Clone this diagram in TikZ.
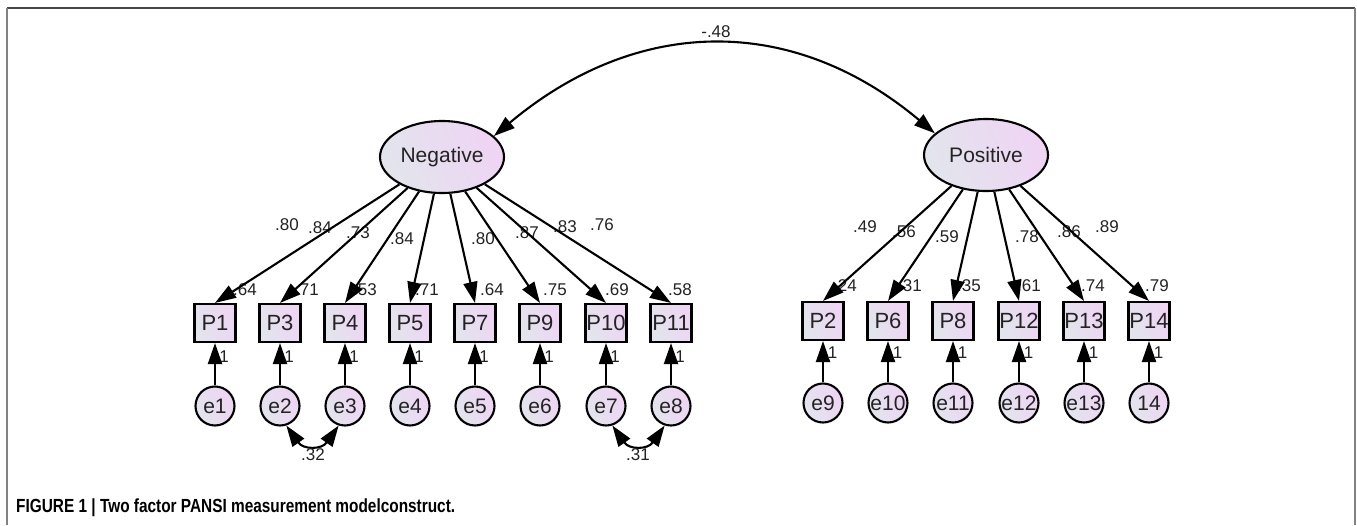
\documentclass[tikz,border=0pt]{standalone}
\usepackage{fontspec}
\setmainfont{Liberation Sans}
\usetikzlibrary{shapes.geometric,arrows.meta}
\definecolor{fillA}{RGB}{226,229,236}
\definecolor{fillB}{RGB}{239,212,244}
\definecolor{txt}{RGB}{35,35,35}
\definecolor{frameTop}{RGB}{70,70,70}
\definecolor{frameSide}{RGB}{130,130,130}
\begin{document}
\begin{tikzpicture}[x=1pt,y=-1pt,
  every node/.style={inner sep=0pt, text=txt},
  latent/.style={ellipse, draw, line width=2.1pt, minimum width=124pt, minimum height=72pt, left color=fillA, right color=fillB, shading angle=115, font=\fontsize{21}{24}\selectfont},
  obs/.style={rectangle, draw, line width=2.1pt, minimum width=41pt, minimum height=38pt, left color=fillA, right color=fillB, shading angle=115, font=\fontsize{22}{26}\selectfont},
  err/.style={circle, draw, line width=2.1pt, minimum size=39pt, left color=fillA, right color=fillB, shading angle=115, font=\fontsize{21}{24}\selectfont},
  loadarrow/.style={draw, line width=2.1pt, -{Triangle[length=21pt,width=14pt]}},
  covarrow/.style={draw, line width=2.1pt, {Triangle[length=21pt,width=14pt]}-{Triangle[length=21pt,width=14pt]}},
  num/.style={font=\fontsize{17}{20}\selectfont},
  caption/.style={font=\fontsize{19}{22}\selectfont\bfseries, text=black, anchor=west}
]
\useasboundingbox (0,0) rectangle (1357,525);
\fill[white] (0,0) rectangle (1357,525);
% frame
\draw[frameTop, line width=1.5pt] (7,8) -- (1355,8);
\draw[frameSide, line width=1.5pt] (7,8) -- (7,525);
\draw[frameSide, line width=1.5pt] (1355,8) -- (1355,525);

% latent factors
\node[latent] (Neg) at (442,157) {Negative};
\node[latent] (Pos) at (986,155) {Positive};

% observed
\foreach \n/\x in {P1/215,P3/280,P4/345,P5/410,P7/475,P9/540,P10/606,P11/671}
  \node[obs] (\n) at (\x,323) {\n};
\foreach \n/\x in {P2/823,P6/888,P8/953,P12/1019,P13/1084,P14/1149}
  \node[obs] (\n) at (\x,321) {\n};

% errors
\foreach \n/\x in {e1/215,e2/280,e3/345,e4/410,e5/475,e6/540,e7/606,e8/671}
  \node[err] (\n) at (\x,406) {\n};
\foreach \n/\t/\x in {e9/e9/823,e10/e10/888,e11/e11/953,e12/e12/1019,e13/e13/1084,e14/14/1149}
  \node[err] (\n) at (\x,403) {\t};

% squared multiple correlations
\foreach \v/\x in {.64/245,.71/307,.53/365,.71/427,.64/492,.75/555,.69/617,.58/680}
  \node[num] at (\x,290) {\v};
\foreach \v/\x in {.24/845,.31/910,.35/969,.61/1029,.74/1093,.79/1157}
  \node[num] at (\x,286) {\v};

% loadings labels
\node[num] (l1) at (287,225) {.80};
\node[num] (l2) at (320,228) {.84};
\node[num] (l3) at (358,233) {.73};
\node[num] (l4) at (402,239) {.84};
\node[num] (l5) at (483,239) {.80};
\node[num] (l6) at (527,233) {.87};
\node[num] (l7) at (565,227) {.83};
\node[num] (l8) at (602,225) {.76};
\node[num] (r1) at (865,227) {.49};
\node[num] (r2) at (904,232) {.56};
\node[num] (r3) at (947,237) {.59};
\node[num] (r4) at (1027,237) {.78};
\node[num] (r5) at (1069,232) {.86};
\node[num] (r6) at (1107,227) {.89};

% loading arrows
\foreach \n in {P1,P3,P4,P5,P7,P9,P10,P11}
  \path[loadarrow] (Neg) -- (\n.north);
\foreach \n in {P2,P6,P8,P12,P13,P14}
  \path[loadarrow] (Pos) -- (\n.north);

% error arrows and labels
\foreach \e/\p/\x in {e1/P1/215,e2/P3/280,e3/P4/345,e4/P5/410,e5/P7/475,e6/P9/540,e7/P10/606,e8/P11/671}{
  \path[loadarrow] (\e) -- (\p);
  \node[num] at (\x+9,357) {1};
}
\foreach \e/\p/\x in {e9/P2/823,e10/P6/888,e11/P8/953,e12/P12/1019,e13/P13/1084,e14/P14/1149}{
  \path[loadarrow] (\e) -- (\p);
  \node[num] at (\x+9.5,353) {1};
}

% error covariances
\path[covarrow] (e2.-72) to[out=-55,in=-125,looseness=1.45] (e3.-108);
\node[num] (c1) at (313,455) {.32};
\path[covarrow] (e7.-72) to[out=-55,in=-125,looseness=1.45] (e8.-108);
\node[num] (c2) at (638,455) {.31};

% factor covariance
\path[covarrow] (Neg.22) to[out=40,in=140,looseness=1.08] (Pos.157);
\node[num] (c0) at (716,32) {-.48};

% caption
\node[caption] (cap) at (16,508) {\scalebox{0.81}[1]{FIGURE 1 | Two factor PANSI measurement modelconstruct.}};
\end{tikzpicture}
\end{document}
